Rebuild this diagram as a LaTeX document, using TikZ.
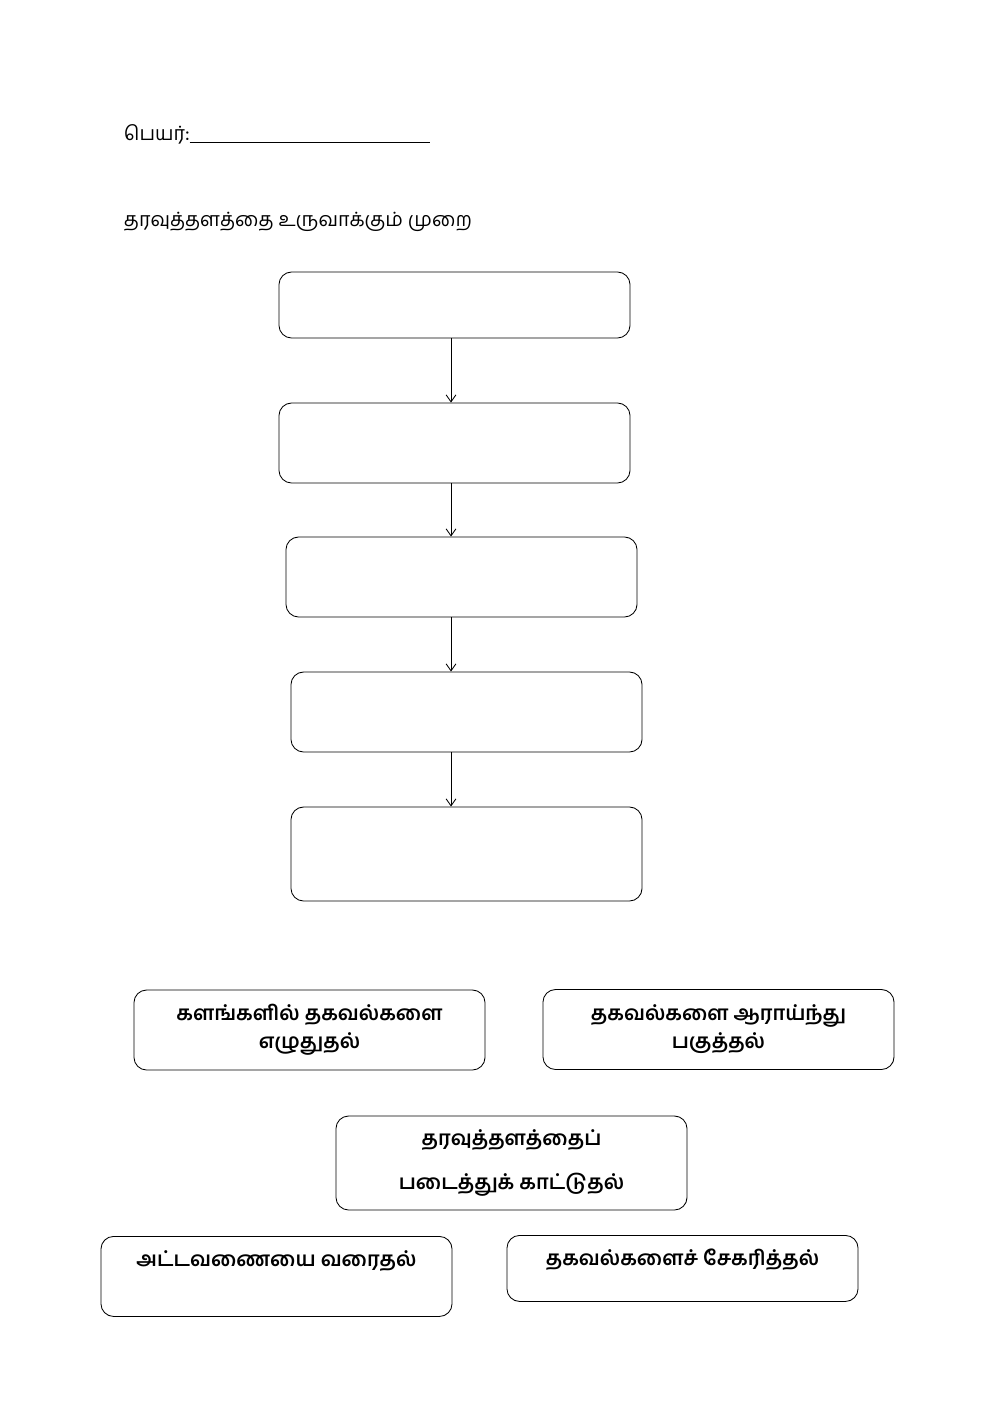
\documentclass[tikz,border=0pt]{standalone}
\usepackage{fontspec}
\newfontfamily\tamilfont[Script=Tamil]{Hind Madurai}
\usetikzlibrary{arrows.meta,positioning}

\begin{document}
\begin{tikzpicture}[x=0.025cm,y=-0.025cm,
    box/.style={draw,rounded corners=9pt,line width=0.6pt,minimum width=8.775cm,inner sep=0pt},
    choice/.style={box,font=\tamilfont\bfseries\fontsize{14.5}{20}\selectfont,align=center},
    flow/.style={-{Straight Barb[length=5pt,width=7pt]},line width=0.6pt}]
  \useasboundingbox (0,0) rectangle (1000,1413);
  % heading
  \node[anchor=west,font=\tamilfont\fontsize{14}{17}\selectfont] (name) at (119,134)
    {பெயர்:\rule[-1.5pt]{6cm}{0.5pt}};
  \node[anchor=west,font=\tamilfont\fontsize{14}{17}\selectfont] (title) at (119,222)
    {தரவுத்தளத்தை உருவாக்கும் முறை};
  % empty steps
  \begin{scope}[every node/.style={box}]
    \node (s1)[minimum height=1.65cm] at (454.5,305) {};
    \node (s2)[minimum height=2cm] at (454.5,443) {};
    \node (s3)[minimum height=2cm] at (461.5,577) {};
    \node (s4)[minimum height=2cm] at (466.5,712) {};
    \node (s5)[minimum height=2.35cm] at (466.5,854) {};
  \end{scope}
  \coordinate (ax) at (451,0);
  \begin{scope}[every edge/.style={draw,flow}]
    \path (s1.south -| ax) edge (s2.north -| ax);
    \path (s2.south -| ax) edge (s3.north -| ax);
    \path (s3.south -| ax) edge (s4.north -| ax);
    \path (s4.south -| ax) edge (s5.north -| ax);
  \end{scope}
  % answers
  \node (a1)[choice,minimum height=2cm] at (309.5,1030) {களங்களில் தகவல்களை\\எழுதுதல்};
  \node (a2)[choice,minimum height=2cm] at (718.5,1029.5) {தகவல்களை ஆராய்ந்து\\பகுத்தல்};
  \node (a3)[choice,minimum height=2.35cm] at (511.5,1163) {தரவுத்தளத்தைப்\\[0.4cm]படைத்துக் காட்டுதல்};
  \node (a4)[choice,text height=0.75cm,text depth=1.25cm,anchor=north] at (276.5,1236) {அட்டவணையை வரைதல்};
  \node (a5)[choice,text height=0.75cm,text depth=0.9cm,anchor=north] at (682.5,1235) {தகவல்களைச் சேகரித்தல்};
\end{tikzpicture}
\end{document}
